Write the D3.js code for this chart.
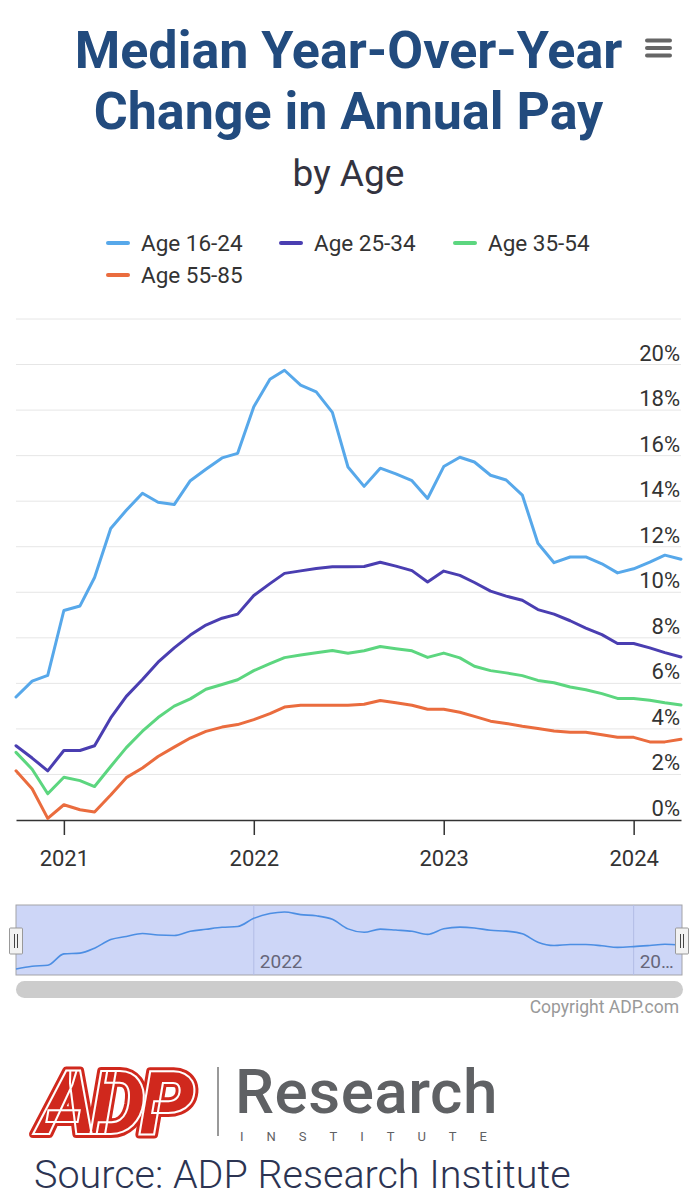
<!DOCTYPE html>
<html><head><meta charset="utf-8">
<script src="https://cdn.jsdelivr.net/npm/d3@7"></script>
<style>
body{margin:0;background:#fff;}
svg{display:block;font-family:Roboto,"Noto Sans",sans-serif;}
</style>
</head><body>
<svg id="chart" width="697" height="1200"></svg>
<script>
// ---------- DATA ----------
const months = ["2020-10","2020-11","2020-12",
  "2021-01","2021-02","2021-03","2021-04","2021-05","2021-06","2021-07","2021-08","2021-09","2021-10","2021-11","2021-12",
  "2022-01","2022-02","2022-03","2022-04","2022-05","2022-06","2022-07","2022-08","2022-09","2022-10","2022-11","2022-12",
  "2023-01","2023-02","2023-03","2023-04","2023-05","2023-06","2023-07","2023-08","2023-09","2023-10","2023-11","2023-12",
  "2024-01","2024-02","2024-03","2024-04"];
const age1624 = [5.4,6.1,6.35,9.2,9.4,10.65,12.8,13.6,14.35,13.95,13.85,14.9,15.4,15.9,16.1,
  18.15,19.35,19.75,19.1,18.8,17.9,15.5,14.65,15.45,15.2,14.9,14.12,15.52,15.93,15.72,15.14,14.93,14.27,
  12.15,11.3,11.55,11.55,11.25,10.85,11.03,11.32,11.63,11.45];
const age2534 = [3.26,2.72,2.16,3.05,3.05,3.26,4.48,5.43,6.17,6.93,7.56,8.12,8.56,8.86,9.04,
  9.86,10.38,10.83,10.94,11.04,11.12,11.12,11.13,11.32,11.15,10.95,10.45,10.93,10.74,10.43,10.05,9.83,9.65,
  9.24,9.04,8.75,8.43,8.14,7.75,7.75,7.56,7.35,7.16];
const age3554 = [2.97,2.23,1.15,1.88,1.73,1.47,2.35,3.18,3.9,4.5,5.0,5.32,5.74,5.95,6.16,
  6.56,6.87,7.13,7.25,7.34,7.44,7.32,7.43,7.62,7.52,7.43,7.14,7.33,7.12,6.75,6.56,6.46,6.34,
  6.13,6.03,5.84,5.72,5.55,5.34,5.34,5.26,5.15,5.05];
const age5585 = [2.16,1.37,0.07,0.67,0.45,0.35,1.1,1.86,2.28,2.79,3.2,3.6,3.89,4.08,4.19,
  4.41,4.67,4.96,5.04,5.04,5.04,5.04,5.08,5.25,5.15,5.04,4.86,4.86,4.73,4.55,4.34,4.24,4.12,
  4.02,3.91,3.85,3.85,3.74,3.63,3.63,3.43,3.43,3.55];
const seriesNames = ["Age 16-24","Age 25-34","Age 35-54","Age 55-85"];
const yTickValues = [0,2,4,6,8,10,12,14,16,18,20];
const yGridValues = [0,2,4,6,8,10,12,14,16,18,20,22];
const xTickYears = ["2021","2022","2023","2024"];
const navTickYears = ["2022","2024"];

// ---------- STYLE ----------
const colors = ["#57a8ea","#4a3eb1","#5cd67f","#ea6c3e"];
const W = 697;
const plot = {left:16, right:681, top:319, bottom:820};
const nav = {top:905, bottom:975};

const svg = d3.select("#chart");
const parse = d3.timeParse("%Y-%m");
const dates = months.map(parse);
const allSeries = [age1624, age2534, age3554, age5585].map((vals,k)=>({
  name: seriesNames[k], color: colors[k],
  points: vals.map((v,i)=>({date: dates[i], v}))
}));

const x = d3.scaleTime().domain(d3.extent(dates)).range([plot.left, plot.right]);
const y = d3.scaleLinear().domain([0, 22]).range([plot.bottom, plot.top]);

// ---------- TITLE ----------
svg.append("text").attr("x", W/2).attr("y", 68).attr("text-anchor","middle")
  .attr("font-size", 52).attr("font-weight", 700).attr("fill", "#224b7e")
  .text("Median Year-Over-Year");
svg.append("text").attr("x", W/2).attr("y", 129).attr("text-anchor","middle")
  .attr("font-size", 52).attr("font-weight", 700).attr("fill", "#224b7e")
  .text("Change in Annual Pay");
svg.append("text").attr("x", W/2).attr("y", 186).attr("text-anchor","middle")
  .attr("font-size", 37).attr("fill", "#333340")
  .text("by Age");

// menu icon
[40.5, 48, 55.5].forEach(cy => {
  svg.append("line").attr("x1", 647).attr("x2", 670).attr("y1", cy).attr("y2", cy)
    .attr("stroke", "#666").attr("stroke-width", 4).attr("stroke-linecap","round");
});

// ---------- LEGEND ----------
const legendPos = [{x:107,y:243},{x:280,y:243},{x:454,y:243},{x:107,y:275}];
const legend = svg.append("g");
allSeries.forEach((s,k)=>{
  const p = legendPos[k];
  const g = legend.append("g").attr("transform",`translate(${p.x},${p.y})`);
  g.append("line").attr("x1",1).attr("x2",21).attr("y1",0).attr("y2",0)
    .attr("stroke", s.color).attr("stroke-width",4).attr("stroke-linecap","round");
  g.append("text").attr("x",34).attr("y",8).attr("font-size",22.5).attr("fill","#333").text(s.name);
});

// ---------- GRID ----------
svg.append("g").selectAll("line").data(yGridValues.filter(d=>d>0)).join("line")
  .attr("x1", plot.left).attr("x2", plot.right)
  .attr("y1", d=>y(d)).attr("y2", d=>y(d))
  .attr("stroke", "#e6e6e6").attr("stroke-width", 1);

svg.append("g").selectAll("text").data(yTickValues).join("text")
  .attr("x", plot.right - 1).attr("y", d=>y(d) - 4)
  .attr("text-anchor","end").attr("font-size",22).attr("fill","#333")
  .text(d=>d + "%");

// ---------- X AXIS ----------
const xAxis = d3.axisBottom(x)
  .tickValues(xTickYears.map(yy=>parse(yy+"-01")))
  .tickFormat(d3.timeFormat("%Y"))
  .tickSize(15).tickSizeOuter(0).tickPadding(15);
const gx = svg.append("g").attr("transform",`translate(0,${plot.bottom})`).call(xAxis);
gx.select(".domain").attr("stroke","#333").attr("stroke-width",1.5);
gx.selectAll(".tick line").attr("stroke","#333").attr("stroke-width",1.5);
gx.selectAll(".tick text").attr("font-size",22).attr("fill","#333")
  .attr("font-family","Roboto,sans-serif");

// ---------- LINES ----------
const line = d3.line().x(d=>x(d.date)).y(d=>y(d.v));
svg.append("g").selectAll("path").data(allSeries).join("path")
  .attr("d", d=>line(d.points))
  .attr("fill","none").attr("stroke", d=>d.color)
  .attr("stroke-width",3).attr("stroke-linejoin","round").attr("stroke-linecap","round");

// ---------- NAVIGATOR ----------
const xn = x.copy();
const yn = d3.scaleLinear().domain(d3.extent(age1624)).range([969, 912]);
const navG = svg.append("g");
navG.append("rect").attr("x", plot.left).attr("y", nav.top)
  .attr("width", plot.right - plot.left + 1).attr("height", nav.bottom - nav.top)
  .attr("fill", "#cdd6f7").attr("stroke","#a3a3a8").attr("stroke-width",1);
navG.selectAll("line.ng").data(navTickYears).join("line").attr("class","ng")
  .attr("x1", d=>xn(parse(d+"-01"))).attr("x2", d=>xn(parse(d+"-01")))
  .attr("y1", nav.top).attr("y2", nav.bottom)
  .attr("stroke","#b3bde6").attr("stroke-width",1);
navG.append("path")
  .attr("d", d3.line().curve(d3.curveMonotoneX).x(d=>xn(d.date)).y(d=>yn(d.v))(allSeries[0].points))
  .attr("fill","none").attr("stroke","#4c8ee3").attr("stroke-width",1.6);
navG.selectAll("text.nl").data(navTickYears).join("text").attr("class","nl")
  .attr("x", d=>xn(parse(d+"-01")) + 6).attr("y", 968)
  .attr("font-size",19).attr("fill","#66667a")
  .text(d=>d)
  .each(function(d){
    const el = d3.select(this);
    const maxW = plot.right - 6 - (+el.attr("x"));
    let t = d;
    while (this.getComputedTextLength() > maxW && t.length > 1) {
      t = t.slice(0, -1);
      el.text(t + "…");
    }
  });
// handles
[plot.left, plot.right + 1].forEach(hx=>{
  const h = navG.append("g").attr("transform",`translate(${hx},941)`);
  h.append("rect").attr("x",-6.5).attr("y",-13).attr("width",13).attr("height",26)
    .attr("fill","#f2f2f2").attr("stroke","#999").attr("stroke-width",1).attr("rx",1);
  [-1.5,1.5].forEach(dx=>h.append("line").attr("x1",dx).attr("x2",dx).attr("y1",-7).attr("y2",7)
    .attr("stroke","#444").attr("stroke-width",1));
});
// scrollbar
svg.append("rect").attr("x", plot.left).attr("y", 981).attr("width", plot.right - plot.left + 2)
  .attr("height", 17).attr("rx", 8.5).attr("fill", "#cccccc");
svg.append("text").attr("x", 679).attr("y", 1013).attr("text-anchor","end")
  .attr("font-size",17.5).attr("fill","#999").text("Copyright ADP.com");

// ---------- LOGO ----------
const logo = svg.append("g");
logo.append("text").attr("x", 38).attr("y", 1134)
  .attr("font-size", 88).attr("font-weight", 900).attr("font-style","italic")
  .attr("letter-spacing", -6)
  .attr("fill","#d0281d").attr("stroke","#d0281d").attr("stroke-width",8).attr("stroke-linejoin","round")
  .text("ADP");
logo.append("text").attr("x", 38).attr("y", 1134)
  .attr("font-size", 88).attr("font-weight", 900).attr("font-style","italic")
  .attr("letter-spacing", -6)
  .attr("fill","#d0281d").attr("stroke","#fff").attr("stroke-width",2)
  .text("ADP");
logo.append("line").attr("x1",218).attr("x2",218).attr("y1",1067).attr("y2",1136)
  .attr("stroke","#777").attr("stroke-width",1.5);
logo.append("text").attr("x", 235).attr("y", 1113)
  .attr("font-size", 62).attr("font-weight", 500).attr("letter-spacing",0.5).attr("fill","#5f6164")
  .text("Research");
logo.append("text").attr("x", 240).attr("y", 1141)
  .attr("font-size", 13).attr("font-weight", 400).attr("letter-spacing", 23).attr("fill","#5f6164")
  .text("INSTITUTE");
svg.append("text").attr("x", 34).attr("y", 1188)
  .attr("font-size", 39.5).attr("font-weight", 300).attr("fill","#2c3452")
  .text("Source: ADP Research Institute");
</script>
</body></html>
